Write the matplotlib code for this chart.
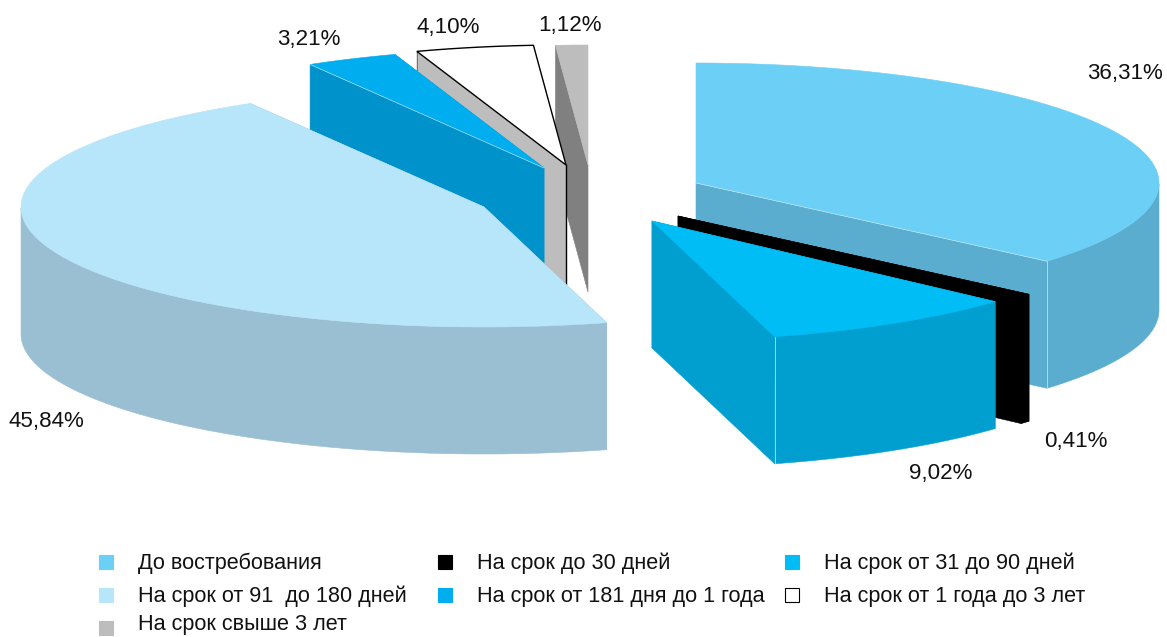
import numpy as np
import matplotlib
matplotlib.use('Agg')
import matplotlib.pyplot as plt
from matplotlib.patches import Rectangle

plt.rcParams['font.family'] = ['Liberation Sans', 'DejaVu Sans']

# Данные
categories = ['До востребования', 'На срок до 30 дней', 'На срок от 31 до 90 дней',
              'На срок от 91  до 180 дней', 'На срок от 181 дня до 1 года',
              'На срок от 1 года до 3 лет', 'На срок свыше 3 лет']
values = [36.31, 0.41, 9.02, 45.84, 3.21, 4.10, 1.12]

# Цвета: верх и бок сектора
top_colors = ['#6bcff6', '#000000', '#00bdf5', '#b7e5fa', '#00aeef', '#ffffff', '#bdbdbd']
side_colors = ['#5aadce', '#000000', '#009fcf', '#9abed2', '#0092cb', '#bdbdbd', '#808080']

# Положение вершины каждого сектора (сектора раздвинуты вручную)
apex_x = [696, 678, 652, 484, 544, 566, 588]
apex_y = [183, 216, 221, 207, 168, 165, 165]

# Подписи процентов
label_x = [1125, 1076, 941, 46, 309, 448, 570]
label_y = [74, 442, 474, 421, 39, 28, 25]

RX, RY, DEPTH = 463, 120, 127
DRAW_ORDER = [6, 5, 4, 3, 0, 1, 2]
SEAM = '#d5edf7'

fig = plt.figure(figsize=(11.67, 6.37), dpi=100)
ax = fig.add_axes([0, 0, 1, 1])
ax.set_xlim(0, 1167)
ax.set_ylim(637, 0)
ax.axis('off')

ends = np.cumsum(values) / sum(values) * 2 * np.pi
starts = np.concatenate(([0], ends[:-1]))


def rim_point(i, t):
    return apex_x[i] + RX * np.sin(t), apex_y[i] - RY * np.cos(t)


for z, i in enumerate(DRAW_ORDER):
    t = np.linspace(starts[i], ends[i], 160)
    x, y = rim_point(i, t)
    cx, cy = apex_x[i], apex_y[i]
    side = side_colors[i]
    z = 10 * (z + 1)

    # Внешняя стенка, только передняя половина
    front = np.cos(t) <= 0
    if front.any():
        fx, fy = x[front], y[front]
        ax.fill(np.r_[fx, fx[::-1]], np.r_[fy, fy[::-1] + DEPTH],
                facecolor=side, edgecolor=side, lw=0.4, zorder=z)
    # Радиальные стенки
    for k in (-1, 0):
        if abs(x[k] - cx) < 1:
            continue
        ax.fill([cx, x[k], x[k], cx], [cy, y[k], y[k] + DEPTH, cy + DEPTH],
                facecolor=side, edgecolor=side, lw=0.4, zorder=z)
    # Верх
    outlined = categories[i] == 'На срок от 1 года до 3 лет'
    ax.fill(np.r_[cx, x], np.r_[cy, y], facecolor=top_colors[i],
            edgecolor='black' if outlined else top_colors[i],
            lw=1.0 if outlined else 0.4, zorder=z + 2)
    if outlined:
        ax.plot([cx, cx], [cy, cy + DEPTH], color='black', lw=1.0, zorder=z + 1)
        ax.plot([x[0], x[0]], [y[0], y[0] + DEPTH], color='#555555', lw=0.5, zorder=z + 1)
    # Светлые швы на стенках
    if i in (0, 2):
        ax.plot([x[-1], x[-1]], [y[-1], y[-1] + DEPTH], color=SEAM, lw=0.5, zorder=z + 1)
    if i in (0, 4):
        k = -1 if i == 0 else 0
        ax.plot([cx, x[k]], [cy, y[k]], color=SEAM, lw=0.4, zorder=z + 3)

# Подписи значений
for v, lx, ly in zip(values, label_x, label_y):
    ax.text(lx, ly, f'{v:.2f}'.replace('.', ',') + '%', fontsize=16.1,
            ha='center', va='center', color='#111111', zorder=200)

# Легенда
legend_x = [98, 437, 784]
legend_text_x = [138, 477, 824]
legend_y = [562, 595, 628]
legend_text_y = [563.5, 596.5, 624.5]  # нижняя строка чуть выше, иначе обрезается
for n, name in enumerate(categories):
    row, col = divmod(n, 3)
    edge = 'black' if top_colors[n] == '#ffffff' else top_colors[n]
    ax.add_patch(Rectangle((legend_x[col] + 0.5, legend_y[row] - 7), 14, 14,
                           facecolor=top_colors[n], edgecolor=edge, lw=0.8))
    ax.text(legend_text_x[col], legend_text_y[row], name, fontsize=15.6,
            ha='left', va='center', color='#111111')

fig.savefig('out.png', dpi=100)
